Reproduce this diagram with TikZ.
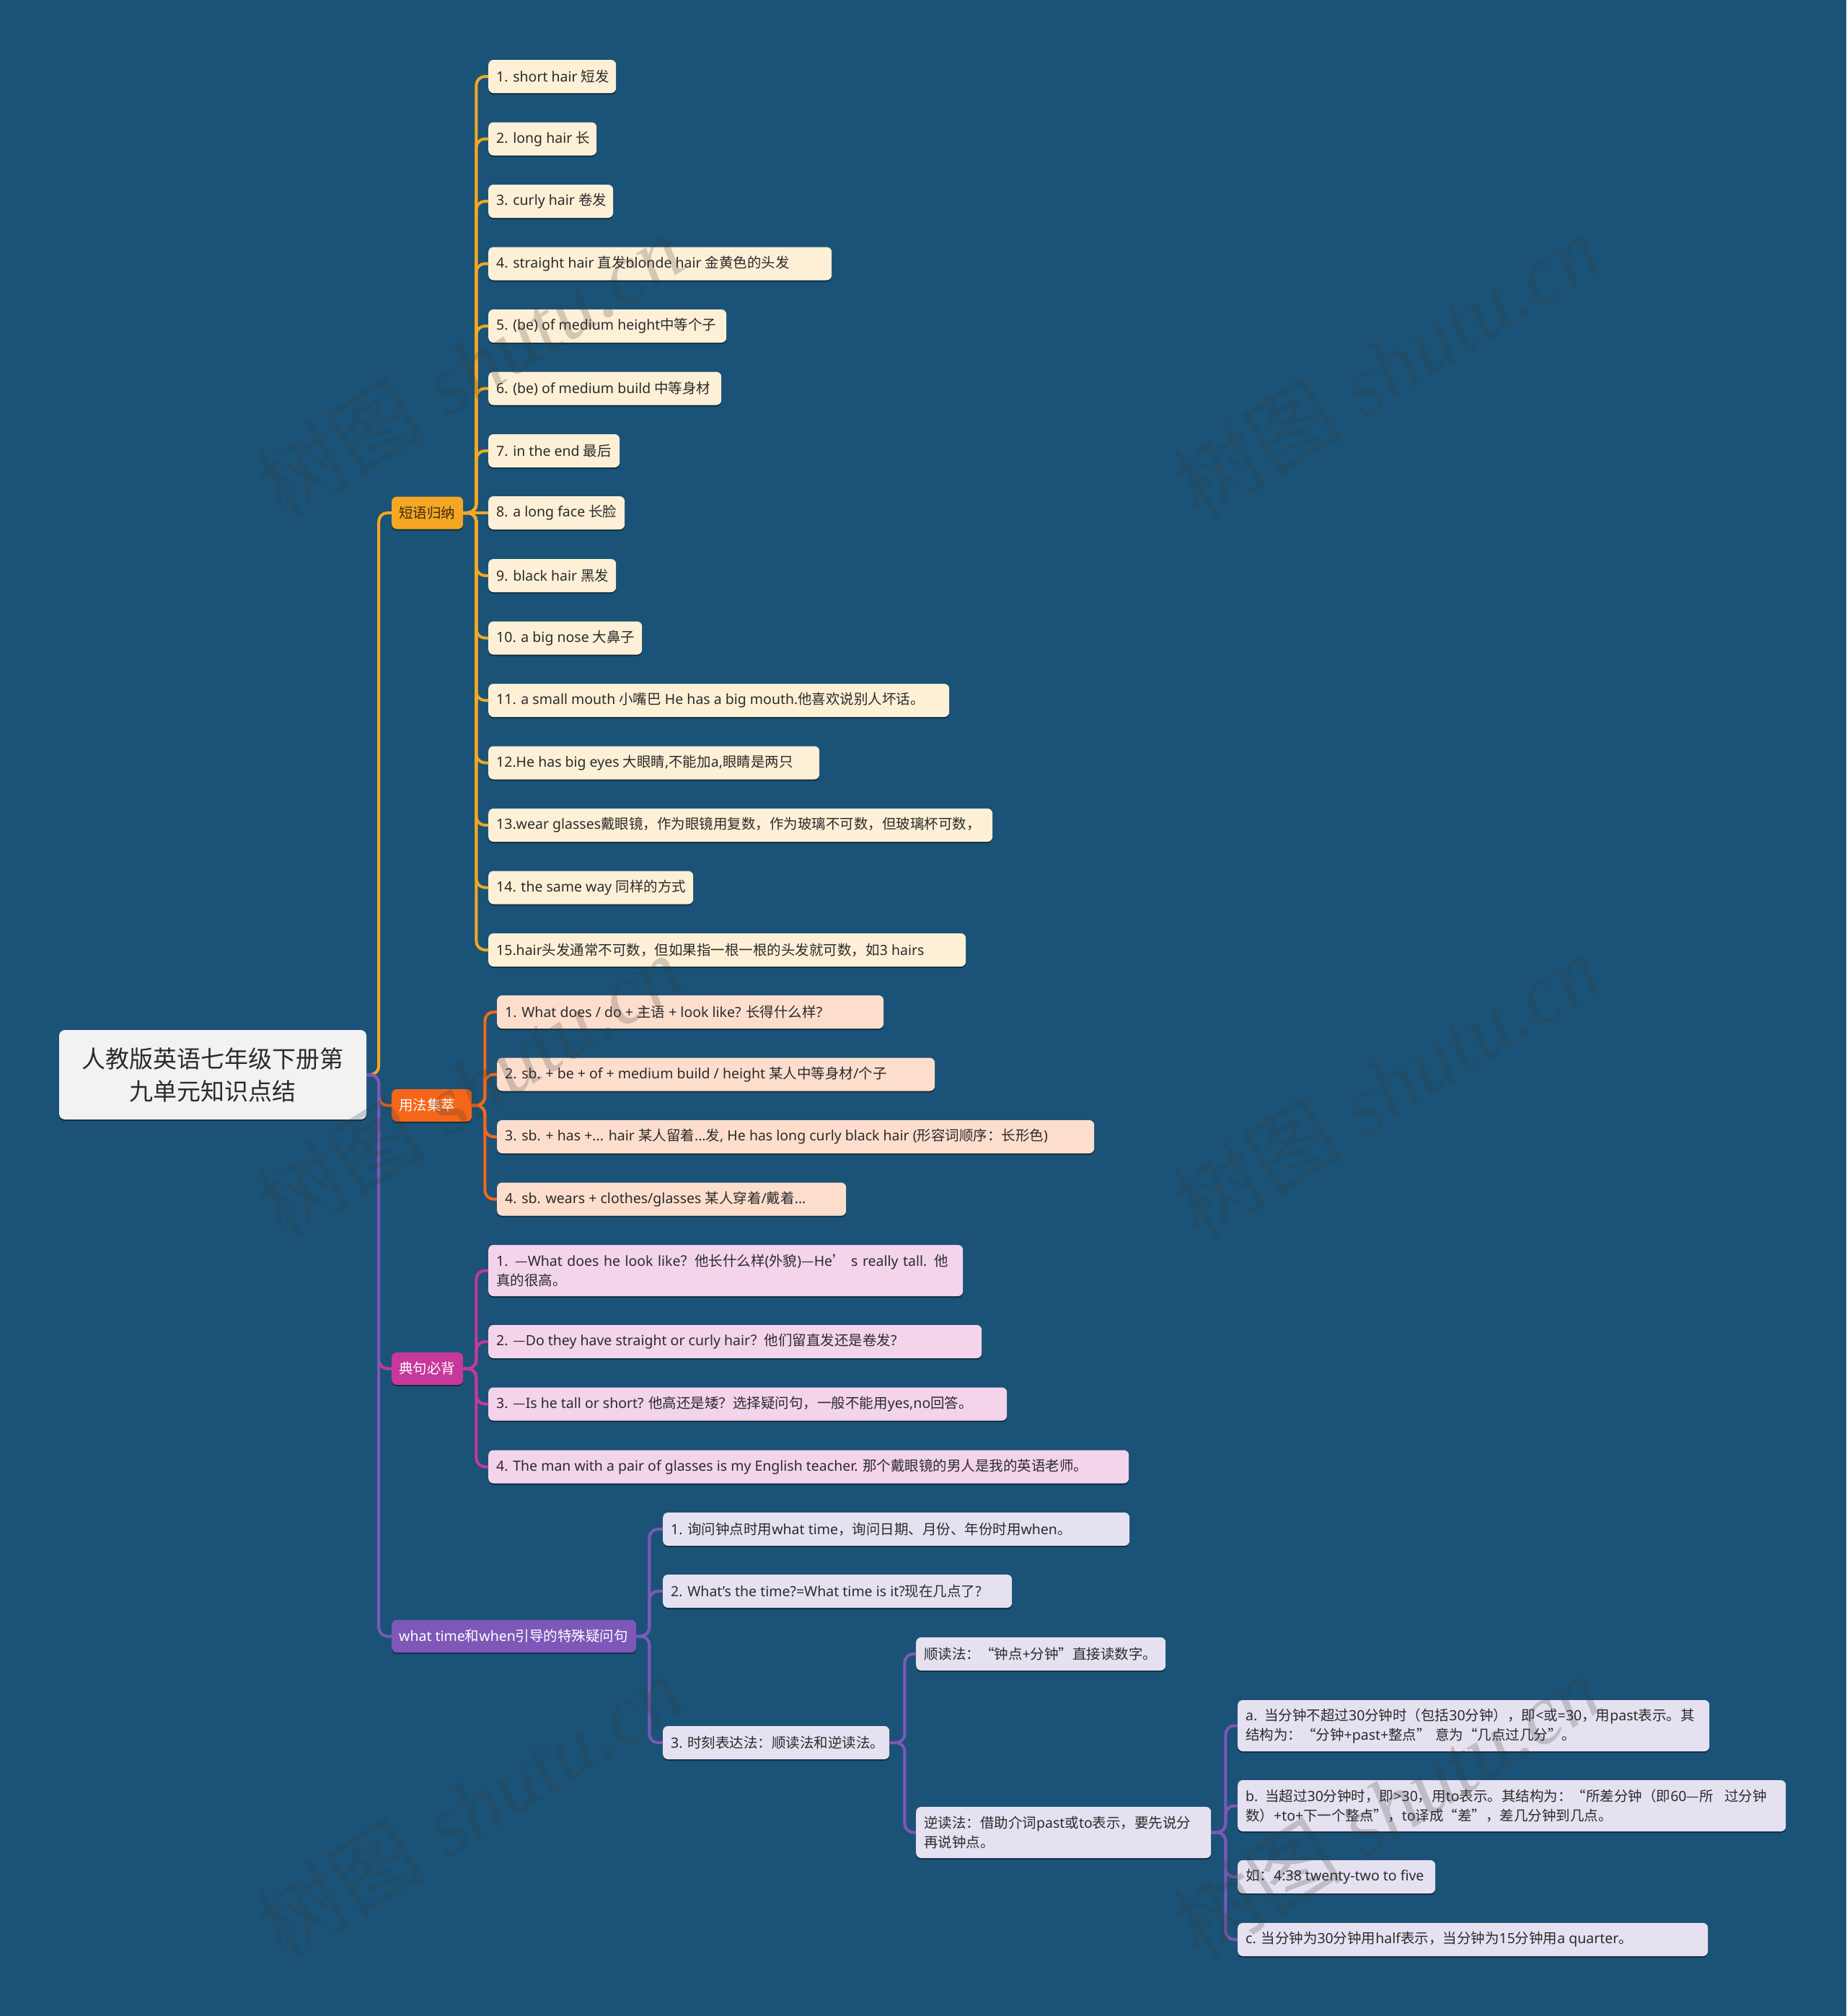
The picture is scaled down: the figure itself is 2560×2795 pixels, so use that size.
\documentclass[tikz,border=0pt]{standalone}
\usepackage{fontspec}
\setmainfont{Noto Sans}
\newfontfamily\cjkf{Noto Sans CJK SC}
\newfontfamily\latf{Noto Sans}
\newfontfamily\wmserif{Liberation Serif}
\usetikzlibrary{shadows}
% automatic switch between Latin and CJK fonts
\XeTeXinterchartokenstate=1
\chardef\cjkcls=7
\newcount\mycnt
\newcommand\setcjkrange[2]{\mycnt=#1\relax
  \loop\XeTeXcharclass\mycnt=\cjkcls\relax
  \ifnum\mycnt<#2\relax\advance\mycnt by 1\repeat}
\setcjkrange{"2014}{"2014}
\setcjkrange{"2018}{"201F}
\setcjkrange{"2026}{"2026}
\setcjkrange{"3000}{"303F}
\setcjkrange{"4E00}{"9FFF}
\setcjkrange{"FF00}{"FFEF}
\XeTeXinterchartoks 0 \cjkcls = {\cjkf}
\XeTeXinterchartoks 1 \cjkcls = {\cjkf}
\XeTeXinterchartoks 2 \cjkcls = {\cjkf}
\XeTeXinterchartoks 3 \cjkcls = {\cjkf}
\XeTeXinterchartoks 4095 \cjkcls = {\cjkf}
\XeTeXinterchartoks \cjkcls 0 = {\latf}
\XeTeXinterchartoks \cjkcls 1 = {\latf}
\XeTeXinterchartoks \cjkcls 2 = {\latf}
\XeTeXinterchartoks \cjkcls 3 = {\latf}
\XeTeXinterchartoks \cjkcls 4095 = {\latf}

\definecolor{bg}{HTML}{1A5377}
\definecolor{cY}{HTML}{F5A623}
\definecolor{cO}{HTML}{F5661A}
\definecolor{cM}{HTML}{C8379A}
\definecolor{cP}{HTML}{7E57B8}
\definecolor{fY}{HTML}{FDF0D6}
\definecolor{fO}{HTML}{FDDECD}
\definecolor{fM}{HTML}{F3D4EA}
\definecolor{fP}{HTML}{E6E1F0}
\definecolor{fR}{HTML}{F2F2F2}
\definecolor{txt}{HTML}{2B2B2B}
\definecolor{txtY}{HTML}{3A2A10}

\newcommand\lfont{\fontsize{19.5pt}{27pt}\selectfont}
\tikzset{
  nbox/.style={rounded corners=7pt, inner xsep=11pt, inner ysep=0pt, anchor=west,
    font=\lfont, text=txt,
    drop shadow={shadow xshift=0pt, shadow yshift=-2pt, opacity=0.45, fill=black}},
  leafY/.style={nbox, fill=fY},
  leafO/.style={nbox, fill=fO},
  leafM/.style={nbox, fill=fM},
  leafP/.style={nbox, fill=fP},
  lvone/.style={nbox, inner xsep=10pt},
  rootbox/.style={rounded corners=8pt, fill=fR, text=txt, minimum width=426pt,
    minimum height=124pt, text width=404pt, align=center, inner xsep=11pt,
    font=\fontsize{33pt}{45pt}\selectfont,
    drop shadow={shadow xshift=0pt, shadow yshift=-2pt, opacity=0.45, fill=black}},
  ln/.style={line width=4pt, rounded corners=12pt},
  lnY/.style={ln, draw=cY},
  lnO/.style={ln, draw=cO},
  lnM/.style={ln, draw=cM},
  lnP/.style={ln, draw=cP},
  wm/.style={font=\fontsize{118pt}{118pt}\selectfont, text=black!55!gray, text opacity=0.22, rotate=32}
}
% single-line node: style, name, x, y, text width, height, text
\newcommand\nd[7]{\node[#1, minimum height=#6pt] (#2) at (#3,#4) {\makebox[#5pt][l]{#7}};}
% multi-line node
\newcommand\ndd[7]{\node[#1, minimum height=#6pt, text width=#5pt, align=left] (#2) at (#3,#4) {#7};}
% elbow connector
\newcommand\elb[4]{\draw[#1] (#2.east) -- ++(#4,0) |- (#3.west);}

\begin{document}
\begin{tikzpicture}[x=1pt,y=-1pt]
\fill[bg] (0,0) rectangle (2560,2795);
\useasboundingbox (0,0) rectangle (2560,2795);

% root
\node[rootbox] (root) at (295,1490) {人教版英语七年级下册第\\九单元知识点结};

% level 1
\nd{lvone, fill=cY, text=txtY}{A}{543}{711}{79}{45}{短语归纳}
\nd{lvone, fill=cO, text=white}{B}{543}{1532.5}{91}{45}{用法集萃}
\nd{lvone, fill=cM, text=white}{C}{543}{1897.5}{79}{45}{典句必背}
\nd{lvone, fill=cP, text=white}{D}{543}{2268.5}{319}{45}{what time和when引导的特殊疑问句}

% group 1
\nd{leafY}{a1}{677}{106}{155}{46}{1. short hair 短发}
\nd{leafY}{a2}{677}{192.5}{128}{46}{2. long hair 长}
\nd{leafY}{a3}{677}{279}{151}{46}{3. curly hair 卷发}
\nd{leafY}{a4}{677}{365.5}{454}{46}{4. straight hair 直发blonde hair 金黄色的头发}
\nd{leafY}{a5}{677}{452}{308}{46}{5. (be) of medium height中等个子}
\nd{leafY}{a6}{677}{538.5}{301}{46}{6. (be) of medium build 中等身材}
\nd{leafY}{a7}{677}{625}{160}{46}{7. in the end 最后}
\nd{leafY}{a8}{677}{711}{167}{46}{8. a long face 长脸}
\nd{leafY}{a9}{677}{798}{155}{46}{9. black hair 黑发}
\nd{leafY}{a10}{677}{884.5}{191}{46}{10. a big nose 大鼻子}
\nd{leafY}{a11}{677}{971}{617}{46}{11. a small mouth 小嘴巴 He has a big mouth.他喜欢说别人坏话。}
\nd{leafY}{a12}{677}{1057.5}{437}{46}{12.He has big eyes 大眼睛,不能加a,眼睛是两只}
\nd{leafY}{a13}{677}{1144}{677}{46}{13.wear glasses戴眼镜，作为眼镜用复数，作为玻璃不可数，但玻璃杯可数，}
\nd{leafY}{a14}{677}{1230.5}{262}{46}{14. the same way 同样的方式}
\nd{leafY}{a15}{677}{1317}{640}{46}{15.hair头发通常不可数，但如果指一根一根的头发就可数，如3 hairs}

% group 2
\nd{leafO}{b1}{689}{1403}{514}{46}{1. What does / do + 主语 + look like? 长得什么样?}
\nd{leafO}{b2}{689}{1489.5}{585}{46}{2. sb. + be + of + medium build / height 某人中等身材/个子}
\nd{leafO}{b3}{689}{1576}{806}{46}{3. sb. + has +... hair 某人留着...发, He has long curly black hair (形容词顺序：长形色)}
\nd{leafO}{b4}{689}{1662.5}{462}{46}{4. sb. wears + clothes/glasses 某人穿着/戴着...}

% group 3
\ndd{leafM}{c1}{677}{1761.5}{636}{71}{1. —What does he look like？他长什么样(外貌)—He’ s really tall. 他\\真的很高。}
\nd{leafM}{c2}{677}{1860}{662}{46}{2. —Do they have straight or curly hair？他们留直发还是卷发?}
\nd{leafM}{c3}{677}{1946.5}{697}{46}{3. —Is he tall or short? 他高还是矮？选择疑问句，一般不能用yes,no回答。}
\nd{leafM}{c4}{677}{2033.5}{866}{46}{4. The man with a pair of glasses is my English teacher. 那个戴眼镜的男人是我的英语老师。}

% group 4
\nd{leafP}{d1}{919}{2120}{625}{46}{1. 询问钟点时用what time，询问日期、月份、年份时用when。}
\nd{leafP}{d2}{919}{2206}{462}{46}{2. What's the time?=What time is it?现在几点了?}
\nd{leafP}{d3}{919}{2416}{292}{46}{3. 时刻表达法：顺读法和逆读法。}
\nd{leafP}{e1}{1270}{2293}{324}{46}{顺读法：“钟点+分钟”直接读数字。}
\ndd{leafP}{e2}{1270}{2540.5}{387}{71}{逆读法：借助介词past或to表示，要先说分\\再说钟点。}
\ndd{leafP}{f1}{1716}{2392.5}{632}{71}{a. 当分钟不超过30分钟时（包括30分钟），即<或=30，用past表示。其\\结构为：“分钟+past+整点” 意为“几点过几分”。}
\ndd{leafP}{f2}{1716}{2503.5}{738}{71}{b. 当超过30分钟时，即>30，用to表示。其结构为：“所差分钟（即60—所\hspace{0.8em}过分钟\\数）+to+下一个整点”，to译成“差”，差几分钟到几点。}
\nd{leafP}{f3}{1716}{2602}{252}{46}{如：4:38 twenty-two to five}
\nd{leafP}{f4}{1716}{2689}{630}{46}{c. 当分钟为30分钟用half表示，当分钟为15分钟用a quarter。}

% connectors: root
\elb{lnY}{root}{A}{17}
\elb{lnO}{root}{B}{17}
\elb{lnM}{root}{C}{17}
\elb{lnP}{root}{D}{17}
% group 1
\foreach \n in {a1,a2,a3,a4,a5,a6,a7,a9,a10,a11,a12,a13,a14,a15}
  {\elb{lnY}{A}{\n}{18}}
\draw[lnY] (A.east) -- (a8.west);
% group 2
\foreach \n in {b1,b2,b3,b4}
  {\elb{lnO}{B}{\n}{18}}
% group 3
\foreach \n in {c1,c2,c3,c4}
  {\elb{lnM}{C}{\n}{18}}
% group 4
\foreach \n in {d1,d2,d3}
  {\elb{lnP}{D}{\n}{18}}
\foreach \n in {e1,e2}
  {\elb{lnP}{d3}{\n}{21}}
\foreach \n in {f1,f2,f3,f4}
  {\elb{lnP}{e2}{\n}{20}}

% watermarks (on top, faint)
\foreach \wx/\wy in {651/508, 1922/508, 651/1506, 1922/1506, 651/2505, 1922/2505}
  {\node[wm] at (\wx,\wy) {树图\ {\wmserif\itshape shutu.cn}};}
\end{tikzpicture}
\end{document}
